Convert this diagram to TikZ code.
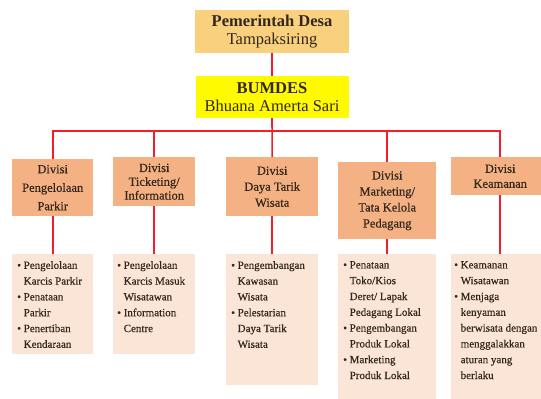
\documentclass[tikz,border=0pt]{standalone}
\usepackage{fontspec}
\setmainfont{Liberation Serif}
\newfontfamily\semib{Liberation Serif}[FakeBold=0.35]
\usetikzlibrary{calc}
\definecolor{topc}{HTML}{F9D17E}
\definecolor{bumc}{HTML}{FFFA00}
\definecolor{divc}{HTML}{F4B183}
\definecolor{listc}{HTML}{FBE5D6}
\definecolor{txtc}{HTML}{33261C}
\definecolor{linec}{HTML}{F51E28}
\newcommand{\bitem}{\makebox[6.5pt][l]{\textbullet}}
\newcommand{\bcont}{\hspace*{6.5pt}}
\begin{document}
\begin{tikzpicture}[x=1pt,y=-1pt,
  every node/.style={text=txtc},
  headbox/.style={draw=none, inner sep=0pt, align=center, font=\fontsize{16.5}{17.5}\selectfont},
  divbox/.style={draw=none, fill=divc, inner sep=0pt, anchor=north west, align=center, font=\semib\fontsize{12.5}{16}\selectfont},
  listbox/.style={draw=none, fill=listc, inner sep=0pt, anchor=north west},
  listtext/.style={inner sep=0pt, anchor=north west, align=left, font=\semib\fontsize{11}{15.8}\selectfont},
  conn/.style={draw=linec, line width=1.6pt}]
\useasboundingbox (0,0) rectangle (541,399);

% top levels
\node[headbox, fill=topc, minimum width=154pt, minimum height=43pt] (top) at (272,31.5)
  {\textbf{Pemerintah Desa}\\Tampaksiring};
\node[headbox, fill=bumc, minimum width=153pt, minimum height=42pt] (bum) at (272,97)
  {\textbf{BUMDES}\\Bhuana Amerta Sari};

% divisions
\node[divbox, minimum width=81pt, minimum height=57pt, font=\semib\fontsize{12.5}{18.5}\selectfont] (d1) at (12,159)
  {Divisi\\Pengelolaan\\Parkir};
\node[divbox, minimum width=82pt, minimum height=49pt, font=\semib\fontsize{12.5}{13.8}\selectfont] (d2) at (113,157)
  {Divisi\\Ticketing/\\Information};
\node[divbox, minimum width=92pt, minimum height=59pt] (d3) at (226,157)
  {Divisi\\Daya Tarik\\Wisata};
\node[divbox, minimum width=98pt, minimum height=77pt] (d4) at (338,162)
  {Divisi\\Marketing/\\Tata Kelola\\Pedagang};
\node[divbox, minimum width=98pt, minimum height=38pt, font=\semib\fontsize{12.5}{15}\selectfont] (d5) at (451,157)
  {Divisi\\Keamanan};

% list boxes
\node[listbox, minimum width=81pt, minimum height=100pt] (b1) at (12,254) {};
\node[listbox, minimum width=82pt, minimum height=100pt] (b2) at (113,254) {};
\node[listbox, minimum width=92pt, minimum height=131pt] (b3) at (226,254) {};
\node[listbox, minimum width=98pt, minimum height=150pt] (b4) at (338,254) {};
\node[listbox, minimum width=98pt, minimum height=150pt] (b5) at (451,254) {};

\node[listtext] (b1t) at ($(b1.north west)+(5,7)$)
  {\bitem Pengelolaan\\\bcont Karcis Parkir\\\bitem Penataan\\\bcont Parkir\\\bitem Penertiban\\\bcont Kendaraan};
\node[listtext] (b2t) at ($(b2.north west)+(4,7)$)
  {\bitem Pengelolaan\\\bcont Karcis Masuk\\\bcont Wisatawan\\\bitem Information\\\bcont Centre};
\node[listtext] (b3t) at ($(b3.north west)+(5,7)$)
  {\bitem Pengembangan\\\bcont Kawasan\\\bcont Wisata\\\bitem Pelestarian\\\bcont Daya Tarik\\\bcont Wisata};
\node[listtext] (b4t) at ($(b4.north west)+(5,7)$)
  {\bitem Penataan\\\bcont Toko/Kios\\\bcont Deret/ Lapak\\\bcont Pedagang Lokal\\\bitem Pengembangan\\\bcont Produk Lokal\\\bitem Marketing\\\bcont Produk Lokal};
\node[listtext] (b5t) at ($(b5.north west)+(3,7)$)
  {\bitem Keamanan\\\bcont Wisatawan\\\bitem Menjaga\\\bcont kenyaman\\\bcont berwisata dengan\\\bcont menggalakkan\\\bcont aturan yang\\\bcont berlaku};

% connectors
\coordinate (bus) at (272,131);
\draw[conn] (top.south) -- (bum.north);
\draw[conn] (bum.south) -- (d3.north);
\draw[conn, line join=miter] (d1.north) -- (d1.north |- bus) -- (d5.north |- bus) -- (d5.north);
\draw[conn] (d2.north |- bus) -- (d2.north);
\draw[conn] (d4.north |- bus) -- (d4.north);
\draw[conn] (d1.south) -- (b1.north);
\draw[conn] (d2.south) -- (b2.north);
\draw[conn] (d3.south) -- (b3.north);
\draw[conn] (d4.south) -- (b4.north);
\draw[conn] (d5.south) -- (b5.north);
\end{tikzpicture}
\end{document}
